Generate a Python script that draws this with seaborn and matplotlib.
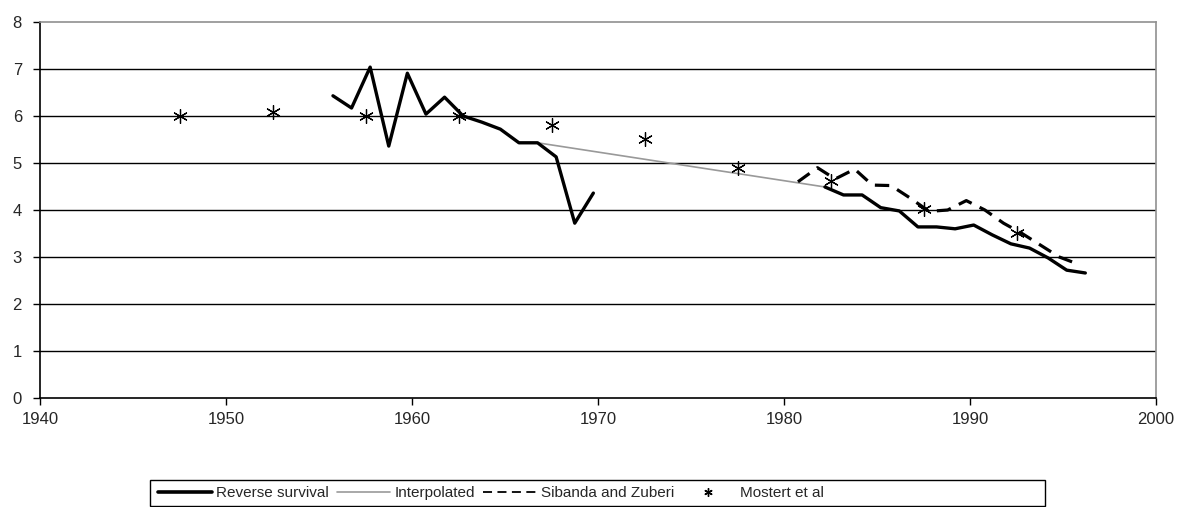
import numpy as np
import pandas as pd
import matplotlib
matplotlib.use("Agg")
import matplotlib.pyplot as plt
from matplotlib.patches import Rectangle
from matplotlib.lines import Line2D
import seaborn as sns

# reverse survival, two pieces
rs_years_a = [1955.75, 1956.75, 1957.75, 1958.75, 1959.75, 1960.75, 1961.75, 1962.75,
              1963.75, 1964.75, 1965.75, 1966.75, 1967.75, 1968.75, 1969.75]
rs_vals_a = [6.43, 6.17, 7.04, 5.36, 6.91, 6.04, 6.40, 6.00, 5.87, 5.72, 5.43, 5.43, 5.13, 3.72, 4.36]
rs_years_b = [1982.2, 1983.2, 1984.2, 1985.2, 1986.2, 1987.2, 1988.2, 1989.2,
              1990.2, 1991.2, 1992.2, 1993.2, 1994.2, 1995.2, 1996.2]
rs_vals_b = [4.49, 4.32, 4.32, 4.05, 3.98, 3.64, 3.64, 3.60, 3.68, 3.47, 3.28, 3.19, 2.98, 2.72, 2.66]

interp_years = [1966.75, 1982.2]
interp_vals = [5.43, 4.49]

sz_years = [1980.75, 1981.8, 1982.75, 1983.8, 1984.75, 1985.75, 1986.8, 1987.8,
            1988.8, 1989.8, 1990.8, 1991.8, 1992.8, 1993.8, 1994.8, 1995.8]
sz_vals = [4.60, 4.90, 4.66, 4.87, 4.53, 4.52, 4.25, 3.97, 4.00, 4.20, 4.00, 3.72, 3.50, 3.25, 3.00, 2.85]

mostert_years = [1947.5, 1952.5, 1957.5, 1962.5, 1967.5, 1972.5, 1977.5, 1982.5, 1987.5, 1992.5]
mostert_vals = [6.00, 6.08, 6.00, 6.00, 5.80, 5.52, 4.90, 4.62, 4.02, 3.52]

x_ticks = [1940, 1950, 1960, 1970, 1980, 1990, 2000]
y_ticks = [0, 1, 2, 3, 4, 5, 6, 7, 8]
legend_labels = ["Reverse survival", "Interpolated", "Sibanda and Zuberi", "Mostert et al"]

sns.set_style("white")
plt.rcParams['font.family'] = ['Liberation Sans', 'DejaVu Sans']

fig = plt.figure(figsize=(11.8, 5.07), dpi=100)
ax = fig.add_axes([40 / 1180, 1 - 398 / 507, 1116 / 1180, 376 / 507])

for v in y_ticks[1:-1]:
    ax.axhline(v, color="black", lw=1.0, zorder=1)

sns.lineplot(x=rs_years_a, y=rs_vals_a, ax=ax, color="black", lw=2.4, zorder=4)
sns.lineplot(x=rs_years_b, y=rs_vals_b, ax=ax, color="black", lw=2.4, zorder=4)
sns.lineplot(x=interp_years, y=interp_vals, ax=ax, color="#999999", lw=1.2, zorder=3)
sns.lineplot(x=sz_years, y=sz_vals, ax=ax, color="black", lw=2.3,
             linestyle=(0, (4.5, 2.8)), zorder=4)
sns.scatterplot(x=mostert_years, y=mostert_vals, ax=ax, marker=(6, 2, 0), s=100,
                color="black", linewidth=0.9, zorder=5)

ax.set_xlim(1940, 2000)
ax.set_ylim(0, 8)
ax.set_xticks(x_ticks)
ax.set_yticks(y_ticks)
ax.tick_params(axis="both", direction="out", length=5, width=1, color="black",
               labelsize=12, left=True, bottom=True)
ax.tick_params(axis="y", pad=8)
ax.tick_params(axis="x", pad=5)
ax.set_xlabel("")
ax.set_ylabel("")

for side in ["left", "bottom"]:
    ax.spines[side].set_color("black")
    ax.spines[side].set_linewidth(1.2)
for side in ["top", "right"]:
    ax.spines[side].set_color("#909090")
    ax.spines[side].set_linewidth(1.2)

# legend box across the bottom
handles = [
    Line2D([], [], color="black", lw=2.6),
    Line2D([], [], color="#999999", lw=1.2),
    Line2D([], [], color="black", lw=1.3, linestyle=(0, (5, 3))),
    Line2D([], [], color="black", lw=0, marker=(6, 2, 0), markersize=6,
           markeredgewidth=1.0),
]
fig.patches.append(Rectangle((150 / 1180, 1 / 507), 895 / 1180, 26 / 507,
                             transform=fig.transFigure, fill=False,
                             edgecolor="black", lw=1.0))
leg = fig.legend(handles, legend_labels, loc="center left",
                 bbox_to_anchor=(152 / 1180, 1 - 493 / 507), ncol=4,
                 frameon=False, fontsize=11, handlelength=3.5,
                 handletextpad=0.3, columnspacing=0.5, borderaxespad=0)

fig.savefig("out.png", dpi=100)
